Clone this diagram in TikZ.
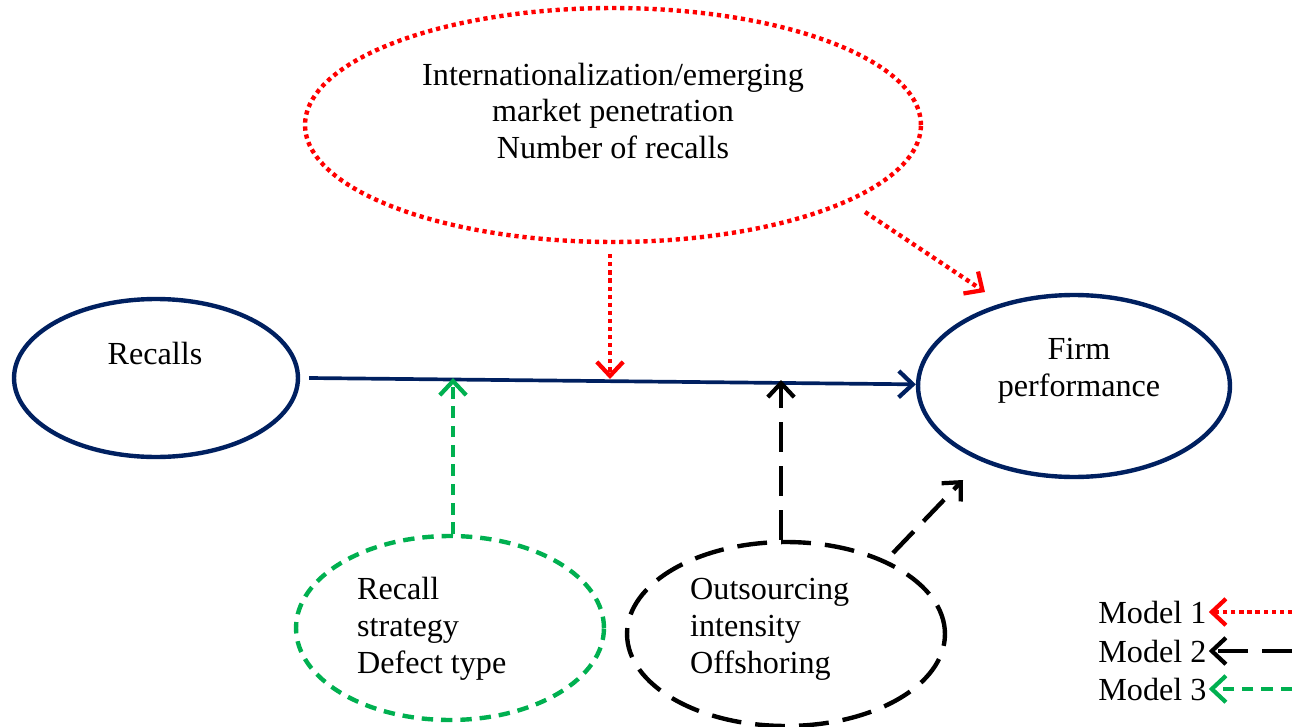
\documentclass[tikz,border=0pt]{standalone}
\usepackage{fontspec}
\setmainfont{Liberation Serif}
\usetikzlibrary{shapes.geometric,arrows.meta}
\definecolor{navy}{RGB}{0,32,96}
\definecolor{mgreen}{RGB}{0,176,80}
\begin{document}
\begin{tikzpicture}[x=0.02cm,y=-0.02cm,
  every node/.style={font=\fontsize{18.3}{21}\selectfont},
  oval/.style={ellipse,draw,line width=2.5pt,inner sep=0pt},
  tipx/.style={-{Straight Barb[length=8pt,width=15pt,line width=2.4pt]}},
  reddot/.style={draw=red,line width=2.5pt,dash pattern=on 2.4pt off 2.2pt},
  greendash/.style={draw=mgreen,line width=2.5pt,dash pattern=on 6.5pt off 4.5pt},
  blackdash/.style={draw=black,line width=2.5pt,dash pattern=on 17pt off 8pt},
  mainline/.style={draw=navy,line width=2.1pt},
  legtext/.style={anchor=west,inner sep=0pt}
]
\useasboundingbox (0,0) rectangle (1303,727);

% ellipses
\node[oval,reddot,minimum width=12.32cm,minimum height=4.68cm] (T) at (613,125) {};
\node[align=center] (Ttext) at (613,111) {Internationalization/emerging\\market penetration\\Number of recalls};

\node[oval,draw=navy,minimum width=5.68cm,minimum height=3.16cm] (R) at (156,378) {};
\node (Rtext) at (155,353) {Recalls};

\node[oval,draw=navy,minimum width=6.24cm,minimum height=3.64cm] (F) at (1074,386) {};
\node[align=center] (Ftext) at (1079,371) {Firm\\performance};

\node[oval,greendash,minimum width=6.16cm,minimum height=3.68cm] (G) at (450,628) {};
\node[align=left,anchor=west] (Gtext) at (351,629) {Recall\\strategy\\Defect type};

\node[oval,blackdash,minimum width=6.36cm,minimum height=3.68cm] (B) at (786,634) {};
\node[align=left,anchor=west] (Btext) at (684,629) {Outsourcing\\intensity\\Offshoring};

% main arrow
\draw[mainline,tipx] ([xshift=0.18cm]R.east) -- (F);

\coordinate (mRed) at (610,379);
\coordinate (mGreen) at (453,378);
\coordinate (mBlack) at (781,380);

% model 1
\draw[reddot,tipx,shorten <=0.2cm] (T.south -| mRed) -- (mRed);
\coordinate (rd1) at (865,212);
\coordinate (rd2) at (985,292);
\draw[reddot,tipx] (rd1) -- (rd2);

% model 3
\draw[greendash,tipx] (G.north -| mGreen) -- (mGreen);

% model 2
\draw[blackdash,tipx] (B.north -| mBlack) -- (mBlack);
\coordinate (bd1) at (893,553);
\coordinate (bd2) at (963,480);
\draw[blackdash,tipx] (bd1) -- (bd2);

% legend
\node[legtext] (L1) at (1098,612) {Model 1};
\node[legtext] (L2) at (1098,651) {Model 2};
\node[legtext] (L3) at (1098,689) {Model 3};
\coordinate (L1e) at (1292,612);
\coordinate (L2e) at (1292,651);
\coordinate (L3e) at (1292,689);
\draw[reddot,tipx] (L1e) -- ([xshift=0.04cm]L1.east);
\draw[blackdash,tipx] (L2e) -- ([xshift=0.04cm]L2.east);
\draw[greendash,tipx] (L3e) -- ([xshift=0.04cm]L3.east);
\end{tikzpicture}
\end{document}
